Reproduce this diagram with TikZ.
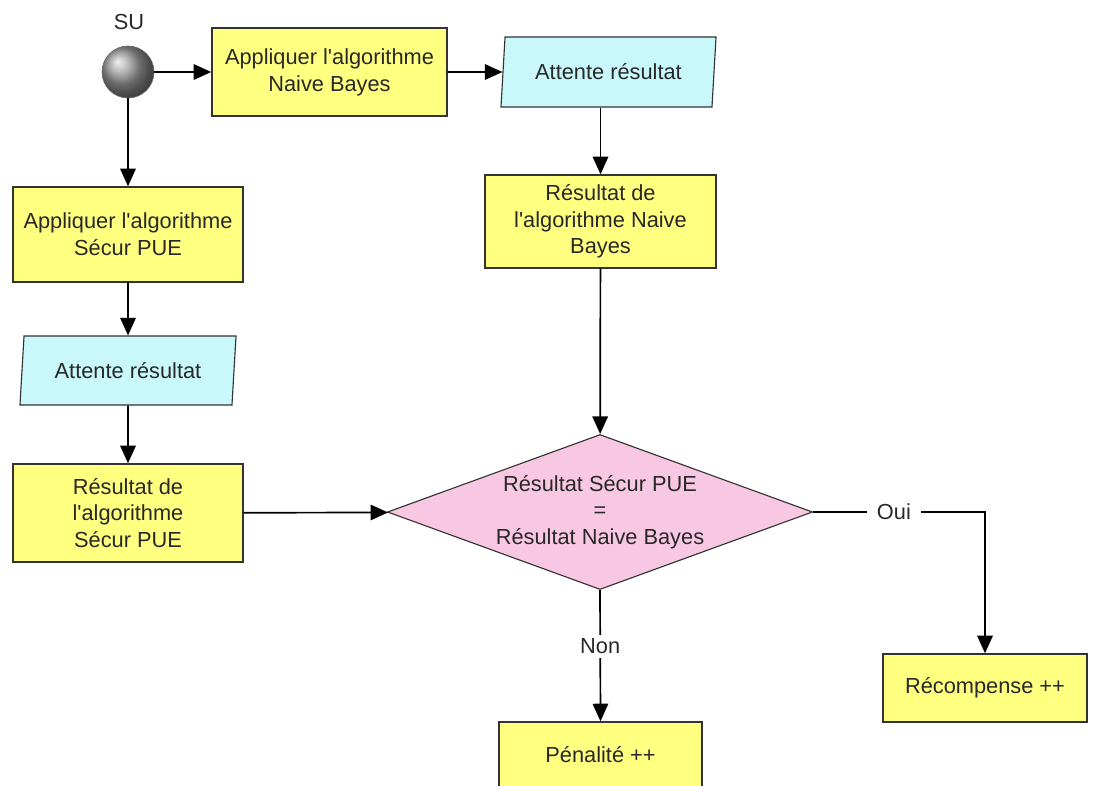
\documentclass[tikz,border=0pt]{standalone}
\usepackage{xcolor}
\usepackage{fontspec}
\setmainfont{Liberation Sans}
\usetikzlibrary{shapes.geometric,arrows.meta}

\definecolor{boxyellow}{RGB}{255,255,128}
\definecolor{waitcyan}{RGB}{200,248,250}
\definecolor{testpink}{RGB}{248,200,226}
\definecolor{textgray}{RGB}{40,40,40}
\newcommand{\apos}{\textquotesingle}

\tikzset{
  box/.style={draw=black!80, line width=1pt, fill=boxyellow, align=center,
    inner sep=0pt, text=textgray},
  wait/.style={trapezium, trapezium left angle=76, trapezium right angle=104,
    trapezium stretches body, draw=black!80, line width=0.8pt, fill=waitcyan,
    inner sep=0pt, text=textgray, minimum height=1.75cm},
  test/.style={diamond, aspect=2.74, draw=black!80, line width=0.8pt,
    fill=testpink, align=center, inner sep=0pt, text=textgray},
  arr/.style={-{Triangle[length=12.5pt,width=11pt]}, line width=1.2pt},
  lbl/.style={fill=white, text=textgray, inner xsep=7pt, inner ysep=3pt}
}

\begin{document}
\begin{tikzpicture}[x=0.025cm, y=-0.025cm, font=\fontsize{15.5}{19}\selectfont]
\useasboundingbox (0,0) rectangle (1096,785);
\clip (0,0) rectangle (1096,785);
\fill[white] (0,0) rectangle (1096,785);

% SU
\node[circle, minimum size=1.3cm, inner sep=0pt, draw=black!60, ball color=gray!80] (su) at (128,72) {};
\node[text=textgray] (sulbl) at (129,22) {SU};

% branche Naive Bayes
\node[box, minimum width=5.875cm, minimum height=2.2cm] (nb1) at (329.5,72) {Appliquer l\apos algorithme\\Naive Bayes};
\node[wait, minimum width=5.375cm] (att1) at (608.5,72) {Attente résultat};
\node[box, minimum width=5.775cm, minimum height=2.325cm] (nbres) at (600.5,221.5) {Résultat de\\l\apos algorithme Naive\\Bayes};

% branche Sécur PUE
\node[box, minimum width=5.75cm, minimum height=2.375cm] (sp1) at (128,234.5) {Appliquer l\apos algorithme\\Sécur PUE};
\node[wait, minimum width=5.4cm, minimum height=1.725cm] (att2) at (128,370.5) {Attente résultat};
\node[box, minimum width=5.75cm, minimum height=2.45cm] (spres) at (128,513) {Résultat de\\l\apos algorithme\\Sécur PUE};

% test
\node[test, minimum width=10.625cm, minimum height=3.875cm] (dec) at (600,512) {Résultat Sécur PUE\\=\\Résultat Naive Bayes};

% issues
\node[box, minimum width=5.075cm, minimum height=1.65cm] (pen) at (600.5,755) {Pénalité ++};
\node[box, minimum width=5.1cm, minimum height=1.7cm] (rec) at (985,688) {Récompense ++};

% connecteurs
\draw[arr] (su) -- (nb1);
\draw[arr] (nb1) -- (att1);
\draw[arr] (att1.south -| nbres.north) -- (nbres.north);
\draw[arr] (nbres) -- (dec);
\draw[arr] (su) -- (sp1);
\draw[arr] (sp1) -- (att2);
\draw[arr] (att2) -- (spres);
\draw[arr] (spres) -- (dec);
\draw[arr] (dec.east) -| node[lbl, pos=0.235] {Oui} (rec.north);
\draw[arr] (dec.south) -- node[lbl, pos=0.43] {Non} (pen.north);
\end{tikzpicture}
\end{document}
